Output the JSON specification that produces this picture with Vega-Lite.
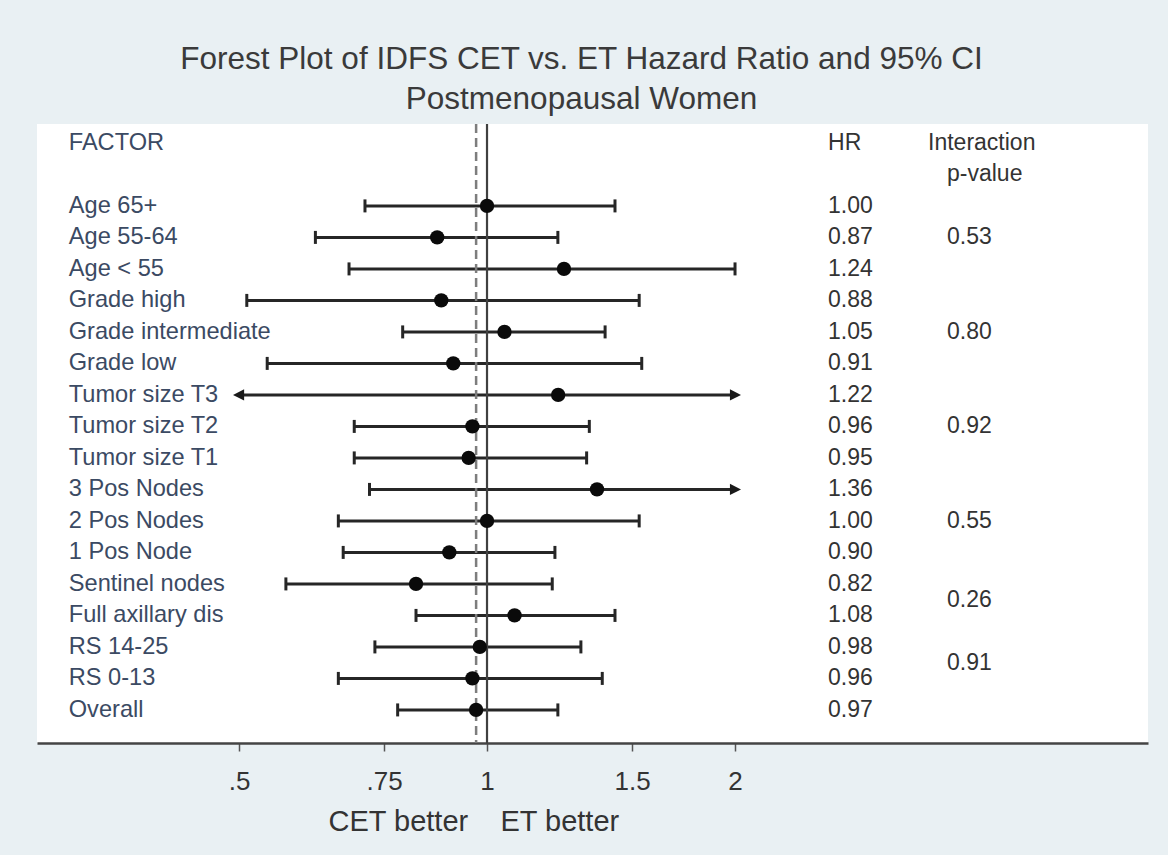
{
  "$schema": "https://vega.github.io/schema/vega-lite/v6.json",
  "width": 1111,
  "height": 619,
  "autosize": {"type": "none"},
  "padding": {"left": 37, "top": 124, "right": 20, "bottom": 112},
  "background": "#e9f0f3",
  "config": {
    "view": {"fill": "white", "stroke": null},
    "font": "Liberation Sans",
    "text": {"font": "Liberation Sans"}
  },
  "title": {
    "text": "Forest Plot of IDFS CET vs. ET Hazard Ratio and 95% CI",
    "subtitle": "Postmenopausal Women",
    "font": "Liberation Sans",
    "subtitleFont": "Liberation Sans",
    "fontSize": 31.5,
    "subtitleFontSize": 31.5,
    "fontWeight": "normal",
    "color": "#3a3a3a",
    "subtitleColor": "#3a3a3a",
    "anchor": "middle",
    "offset": 7,
    "subtitlePadding": 9,
    "dx": -11
  },
  "datasets": {
    "est": [
      {"factor": "Age 65+", "row": 1, "hr": 1.00, "lo": 0.711, "hi": 1.430, "lo_arrow": false, "hi_arrow": false},
      {"factor": "Age 55-64", "row": 2, "hr": 0.87, "lo": 0.619, "hi": 1.219, "lo_arrow": false, "hi_arrow": false},
      {"factor": "Age < 55", "row": 3, "hr": 1.24, "lo": 0.680, "hi": 2.000, "lo_arrow": false, "hi_arrow": false},
      {"factor": "Grade high", "row": 4, "hr": 0.88, "lo": 0.511, "hi": 1.530, "lo_arrow": false, "hi_arrow": false},
      {"factor": "Grade intermediate", "row": 5, "hr": 1.05, "lo": 0.790, "hi": 1.391, "lo_arrow": false, "hi_arrow": false},
      {"factor": "Grade low", "row": 6, "hr": 0.91, "lo": 0.541, "hi": 1.541, "lo_arrow": false, "hi_arrow": false},
      {"factor": "Tumor size T3", "row": 7, "hr": 1.22, "lo": 0.5, "hi": 2.0, "lo_arrow": true, "hi_arrow": true},
      {"factor": "Tumor size T2", "row": 8, "hr": 0.96, "lo": 0.690, "hi": 1.331, "lo_arrow": false, "hi_arrow": false},
      {"factor": "Tumor size T1", "row": 9, "hr": 0.95, "lo": 0.690, "hi": 1.321, "lo_arrow": false, "hi_arrow": false},
      {"factor": "3 Pos Nodes", "row": 10, "hr": 1.36, "lo": 0.720, "hi": 2.0, "lo_arrow": false, "hi_arrow": true},
      {"factor": "2 Pos Nodes", "row": 11, "hr": 1.00, "lo": 0.660, "hi": 1.530, "lo_arrow": false, "hi_arrow": false},
      {"factor": "1 Pos Node", "row": 12, "hr": 0.90, "lo": 0.669, "hi": 1.209, "lo_arrow": false, "hi_arrow": false},
      {"factor": "Sentinel nodes", "row": 13, "hr": 0.82, "lo": 0.570, "hi": 1.200, "lo_arrow": false, "hi_arrow": false},
      {"factor": "Full axillary dis", "row": 14, "hr": 1.08, "lo": 0.820, "hi": 1.430, "lo_arrow": false, "hi_arrow": false},
      {"factor": "RS 14-25", "row": 15, "hr": 0.98, "lo": 0.731, "hi": 1.300, "lo_arrow": false, "hi_arrow": false},
      {"factor": "RS 0-13", "row": 16, "hr": 0.96, "lo": 0.660, "hi": 1.380, "lo_arrow": false, "hi_arrow": false},
      {"factor": "Overall", "row": 17, "hr": 0.97, "lo": 0.779, "hi": 1.219, "lo_arrow": false, "hi_arrow": false}
    ],
    "pv": [
      {"p": 0.53, "row": 2},
      {"p": 0.80, "row": 5},
      {"p": 0.92, "row": 8},
      {"p": 0.55, "row": 11},
      {"p": 0.26, "row": 13.5},
      {"p": 0.91, "row": 15.5}
    ]
  },
  "layer": [
    {
      "data": {"name": "est"},
      "mark": {"type": "rule", "color": "#262626", "strokeWidth": 3},
      "encoding": {
        "x": {
          "field": "lo",
          "type": "quantitative",
          "scale": {"type": "log", "domain": [0.2843, 6.343], "nice": false},
          "axis": {
            "values": [0.5, 0.75, 1, 1.5, 2],
            "labelExpr": "datum.value < 1 ? replace(format(datum.value, '~g'), '0.', '.') : format(datum.value, '~g')",
            "grid": false,
            "domainColor": "#444444",
            "domainWidth": 2.5,
            "tickColor": "#555555",
            "tickWidth": 1.5,
            "tickSize": 8,
            "labelFont": "Liberation Sans",
            "labelFontSize": 26,
            "labelColor": "#333333",
            "labelPadding": 17,
            "labelFlush": false,
            "labelOverlap": false,
            "title": "CET better\u00a0\u00a0\u00a0\u00a0ET better",
            "titleFont": "Liberation Sans",
            "titleFontSize": 29,
            "titleFontWeight": "normal",
            "titleColor": "#333333",
            "titleAlign": "left",
            "titleX": 291,
            "titleY": 87,
            "titleBaseline": "alphabetic"
          }
        },
        "x2": {"field": "hi"},
        "y": {"field": "row", "type": "quantitative", "scale": {"domain": [-1.6, 18.05], "reverse": true, "nice": false, "zero": false}, "axis": null}
      }
    },
    {
      "data": {"values": [{}]},
      "mark": {"type": "rule", "color": "#7d7d7d", "strokeWidth": 2.5, "strokeDash": [9, 5]},
      "encoding": {"x": {"datum": 0.97, "type": "quantitative"}}
    },
    {
      "data": {"values": [{}]},
      "mark": {"type": "rule", "color": "#404040", "strokeWidth": 2.2},
      "encoding": {"x": {"datum": 1, "type": "quantitative"}}
    },
    {
      "data": {"name": "est"},
      "transform": [{"filter": "!datum.lo_arrow"}],
      "mark": {"type": "point", "shape": "M0,-1L0,1", "size": 169, "filled": false, "stroke": "#262626", "strokeWidth": 3, "opacity": 1},
      "encoding": {
        "x": {"field": "lo", "type": "quantitative"},
        "y": {"field": "row", "type": "quantitative", "axis": null}
      }
    },
    {
      "data": {"name": "est"},
      "transform": [{"filter": "!datum.hi_arrow"}],
      "mark": {"type": "point", "shape": "M0,-1L0,1", "size": 169, "filled": false, "stroke": "#262626", "strokeWidth": 3, "opacity": 1},
      "encoding": {
        "x": {"field": "hi", "type": "quantitative"},
        "y": {"field": "row", "type": "quantitative", "axis": null}
      }
    },
    {
      "data": {"name": "est"},
      "transform": [{"filter": "datum.lo_arrow"}],
      "mark": {"type": "point", "shape": "M0.85,-0.95L-1,0L0.85,0.95Z", "size": 144, "filled": true, "color": "#1a1a1a", "opacity": 1},
      "encoding": {
        "x": {"field": "lo", "type": "quantitative"},
        "y": {"field": "row", "type": "quantitative", "axis": null}
      }
    },
    {
      "data": {"name": "est"},
      "transform": [{"filter": "datum.hi_arrow"}],
      "mark": {"type": "point", "shape": "M-0.85,-0.95L1,0L-0.85,0.95Z", "size": 144, "filled": true, "color": "#1a1a1a", "opacity": 1},
      "encoding": {
        "x": {"field": "hi", "type": "quantitative"},
        "y": {"field": "row", "type": "quantitative", "axis": null}
      }
    },
    {
      "data": {"name": "est"},
      "mark": {"type": "circle", "size": 205, "color": "#0a0a0a", "opacity": 1},
      "encoding": {
        "x": {"field": "hr", "type": "quantitative"},
        "y": {"field": "row", "type": "quantitative", "axis": null}
      }
    },
    {
      "data": {"name": "est"},
      "mark": {"type": "text", "align": "left", "baseline": "middle", "fontSize": 23.6, "color": "#3b4a63"},
      "encoding": {
        "x": {"datum": 0.3107, "type": "quantitative"},
        "y": {"field": "row", "type": "quantitative", "axis": null},
        "text": {"field": "factor"}
      }
    },
    {
      "data": {"name": "est"},
      "mark": {"type": "text", "align": "left", "baseline": "middle", "fontSize": 23, "color": "#333333"},
      "encoding": {
        "x": {"datum": 2.594, "type": "quantitative"},
        "y": {"field": "row", "type": "quantitative", "axis": null},
        "text": {"field": "hr", "format": ".2f"}
      }
    },
    {
      "data": {"name": "pv"},
      "mark": {"type": "text", "align": "left", "baseline": "middle", "fontSize": 23, "color": "#333333"},
      "encoding": {
        "x": {"datum": 3.617, "type": "quantitative"},
        "y": {"field": "row", "type": "quantitative", "axis": null},
        "text": {"field": "p", "format": ".2f"}
      }
    },
    {
      "data": {"values": [{}]},
      "mark": {"type": "text", "align": "left", "baseline": "middle", "fontSize": 23.6, "color": "#3b4a63"},
      "encoding": {
        "x": {"datum": 0.3107, "type": "quantitative"},
        "y": {"datum": -1, "type": "quantitative", "axis": null},
        "text": {"value": "FACTOR"}
      }
    },
    {
      "data": {"values": [{}]},
      "mark": {"type": "text", "align": "left", "baseline": "middle", "fontSize": 23, "color": "#333333"},
      "encoding": {
        "x": {"datum": 2.594, "type": "quantitative"},
        "y": {"datum": -1, "type": "quantitative", "axis": null},
        "text": {"value": "HR"}
      }
    },
    {
      "data": {"values": [{}]},
      "mark": {"type": "text", "align": "left", "baseline": "middle", "fontSize": 23, "color": "#333333"},
      "encoding": {
        "x": {"datum": 3.43, "type": "quantitative"},
        "y": {"datum": -1, "type": "quantitative", "axis": null},
        "text": {"value": "Interaction"}
      }
    },
    {
      "data": {"values": [{}]},
      "mark": {"type": "text", "align": "left", "baseline": "middle", "fontSize": 23, "color": "#333333"},
      "encoding": {
        "x": {"datum": 3.617, "type": "quantitative"},
        "y": {"datum": 0, "type": "quantitative", "axis": null},
        "text": {"value": "p-value"}
      }
    }
  ]
}
